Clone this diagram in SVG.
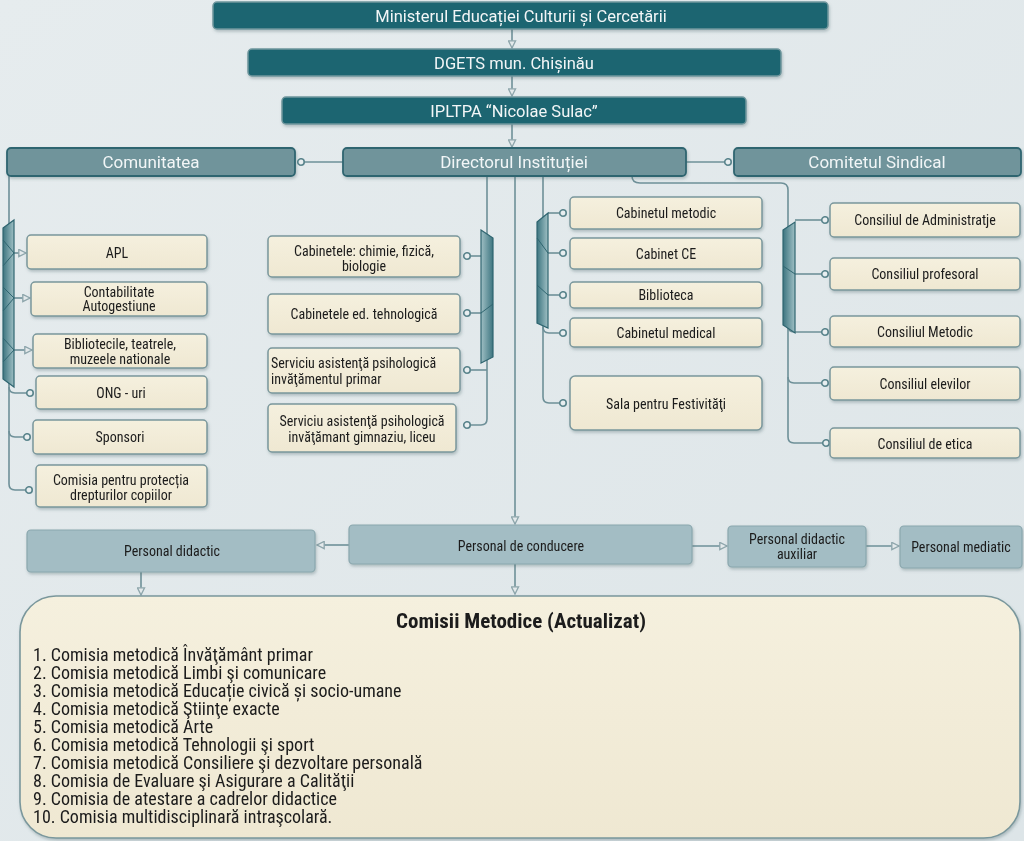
<svg xmlns="http://www.w3.org/2000/svg" width="1024" height="841" viewBox="0 0 1024 841">
<defs>
<linearGradient id="bg" x1="0" y1="0" x2="1" y2="1"><stop offset="0" stop-color="#e6ecee"/><stop offset="1" stop-color="#dde5e8"/></linearGradient>
<linearGradient id="brL" x1="0" y1="0" x2="1" y2="0"><stop offset="0" stop-color="#3d7580"/><stop offset="1" stop-color="#9fbfc4"/></linearGradient>
<linearGradient id="brR" x1="0" y1="0" x2="1" y2="0"><stop offset="0" stop-color="#9fbfc4"/><stop offset="1" stop-color="#3d7580"/></linearGradient>
<linearGradient id="cream" x1="0" y1="0" x2="0" y2="1"><stop offset="0" stop-color="#f5f0de"/><stop offset="1" stop-color="#efe8d2"/></linearGradient>
<filter id="sh" x="-5%" y="-20%" width="110%" height="150%"><feDropShadow dx="1" dy="2" stdDeviation="1.5" flood-color="#506a70" flood-opacity="0.35"/></filter>
<marker id="tri" viewBox="0 0 10 10" refX="9" refY="5" markerWidth="9" markerHeight="9" orient="auto" markerUnits="userSpaceOnUse"><path d="M1,1 L9,5 L1,9 Z" fill="#e3e9eb" stroke="#8ea6ac" stroke-width="1.5"/></marker>
<marker id="dot" viewBox="0 0 10 10" refX="5" refY="5" markerWidth="9" markerHeight="9" markerUnits="userSpaceOnUse"><circle cx="5" cy="5" r="3.6" fill="#e8eef0" stroke="#5b858d" stroke-width="1.8"/></marker>
</defs>
<style>
.top{fill:#1e6571;stroke:#6f969d;stroke-width:1.5}
.mid{fill:#6f949b;stroke:#2f6570;stroke-width:1.8}
.box{fill:url(#cream);stroke:#7a979c;stroke-width:1.5}
.low{fill:#a3bdc4;stroke:#8aa7ae;stroke-width:1.2}
.br{stroke:#2f6570;stroke-width:1.2}
.ln{fill:none;stroke:#6e9098;stroke-width:1.6}
.wt{font-family:Roboto,"Liberation Sans",sans-serif;fill:#f2f6f7;font-size:16.5px;text-anchor:middle;dominant-baseline:central}
.wm{font-size:17px}
.bt{font-family:"Liberation Sans Narrow","Roboto Condensed","Liberation Sans",sans-serif;fill:#1b1b1b;font-size:14px;text-anchor:middle;dominant-baseline:central}
.st{text-anchor:start}
.li{font-family:"Liberation Sans Narrow","Roboto Condensed","Liberation Sans",sans-serif;fill:#1b1b1b;font-size:18px}
</style>
<rect x="0" y="0" width="1024" height="841" fill="url(#bg)"/>

<g id="connectors">
<line class="ln" x1="512" y1="28" x2="512" y2="48" marker-end="url(#tri)" stroke="#8ea6ac"/>
<line class="ln" x1="512" y1="76" x2="512" y2="96" marker-end="url(#tri)" stroke="#8ea6ac"/>
<line class="ln" x1="512" y1="124" x2="512" y2="147" marker-end="url(#tri)" stroke="#8ea6ac"/>
<line class="ln" x1="343" y1="162" x2="301" y2="162" marker-end="url(#dot)"/>
<line class="ln" x1="686" y1="162" x2="728" y2="162" marker-end="url(#dot)"/>
<path class="ln" d="M9,176 V484 Q9,490 15,490 H29" marker-end="url(#dot)"/>
<path class="ln" d="M9,387 Q9,393 15,393 H30" marker-end="url(#dot)"/>
<path class="ln" d="M9,431 Q9,437 15,437 H27" marker-end="url(#dot)"/>
<line class="ln" x1="14" y1="253" x2="26" y2="253" marker-end="url(#tri)"/>
<line class="ln" x1="14" y1="298" x2="30" y2="298" marker-end="url(#tri)"/>
<line class="ln" x1="14" y1="350" x2="32" y2="350" marker-end="url(#tri)"/>
<path class="ln" d="M487,176 V419 Q487,425 481,425 H467" marker-end="url(#dot)"/>
<line class="ln" x1="482" y1="256" x2="467" y2="256" marker-end="url(#dot)"/>
<line class="ln" x1="482" y1="313" x2="467" y2="313" marker-end="url(#dot)"/>
<line class="ln" x1="487" y1="370" x2="467" y2="370" marker-end="url(#dot)"/>
<path class="ln" d="M543,176 V397 Q543,403 549,403 H563" marker-end="url(#dot)"/>
<line class="ln" x1="548" y1="213" x2="563" y2="213" marker-end="url(#dot)"/>
<line class="ln" x1="548" y1="253" x2="563" y2="253" marker-end="url(#dot)"/>
<line class="ln" x1="548" y1="295" x2="563" y2="295" marker-end="url(#dot)"/>
<path class="ln" d="M543,327 Q543,333 549,333 H563" marker-end="url(#dot)"/>
<path class="ln" d="M632,176 Q632,183 640,183 H781 Q788,183 788,190 V437 Q788,443 794,443 H826" marker-end="url(#dot)"/>
<line class="ln" x1="795" y1="220" x2="825" y2="220" marker-end="url(#dot)"/>
<line class="ln" x1="795" y1="274" x2="825" y2="274" marker-end="url(#dot)"/>
<path class="ln" d="M788,326 Q788,332 794,332 H825" marker-end="url(#dot)"/>
<path class="ln" d="M788,377 Q788,383 794,383 H825" marker-end="url(#dot)"/>
<line class="ln" x1="515" y1="176" x2="515" y2="524" marker-end="url(#tri)"/>
<line class="ln" x1="349" y1="545" x2="317" y2="545" marker-end="url(#tri)" stroke="#8ea6ac"/>
<line class="ln" x1="692" y1="546" x2="727" y2="546" marker-end="url(#tri)" stroke="#8ea6ac"/>
<line class="ln" x1="866" y1="546" x2="899" y2="546" marker-end="url(#tri)" stroke="#8ea6ac"/>
<line class="ln" x1="141" y1="572" x2="141" y2="595" marker-end="url(#tri)" stroke="#8ea6ac"/>
<line class="ln" x1="515" y1="564" x2="515" y2="594" marker-end="url(#tri)" stroke="#8ea6ac"/>
</g>

<g id="brackets">
<polygon class="br" points="3,228 14,220 14,387 3,379" fill="url(#brL)"/>
<polyline points="3,240 14,253 3,266" fill="none" stroke="#2f6570" stroke-width="1"/>
<polyline points="3,287 14,298 3,311" fill="none" stroke="#2f6570" stroke-width="1"/>
<polyline points="3,338 14,350 3,362" fill="none" stroke="#2f6570" stroke-width="1"/>
<polygon class="br" points="481,230 493,238 493,357 481,363" fill="url(#brR)"/>
<line x1="481" y1="313" x2="493" y2="304" stroke="#2f6570" stroke-width="1"/>
<polygon class="br" points="537,222 548,213 548,328 537,323" fill="url(#brL)"/>
<line x1="537" y1="238" x2="548" y2="253" stroke="#2f6570" stroke-width="1"/>
<line x1="537" y1="285" x2="548" y2="295" stroke="#2f6570" stroke-width="1"/>
<polygon class="br" points="783,230 795,222 795,333 783,325" fill="url(#brL)"/>
<line x1="783" y1="266" x2="795" y2="274" stroke="#2f6570" stroke-width="1"/>
</g>

<g id="n-ministerul" filter="url(#sh)"><rect class="top" x="213" y="2" width="615" height="27" rx="4"/><text class="wt" x="521" y="16">Ministerul Educației Culturii și Cercetării</text></g>
<g id="n-dgets" filter="url(#sh)"><rect class="top" x="248" y="49" width="533" height="27" rx="4"/><text class="wt" x="514" y="63">DGETS mun. Chișinău</text></g>
<g id="n-ipltpa" filter="url(#sh)"><rect class="top" x="282" y="97" width="464" height="27" rx="4"/><text class="wt" x="514" y="111">IPLTPA “Nicolae Sulac”</text></g>
<g id="n-comunitatea" filter="url(#sh)"><rect class="mid" x="7" y="148" width="288" height="28" rx="4"/><text class="wt wm" x="151" y="162">Comunitatea</text></g>
<g id="n-directorul" filter="url(#sh)"><rect class="mid" x="343" y="148" width="343" height="28" rx="4"/><text class="wt wm" x="514" y="162">Directorul Instituției</text></g>
<g id="n-comitetul" filter="url(#sh)"><rect class="mid" x="734" y="148" width="287" height="28" rx="4"/><text class="wt wm" x="877" y="162">Comitetul Sindical</text></g>

<g id="n-apl" filter="url(#sh)"><rect class="box" x="27" y="235" width="180" height="34" rx="4"/><text class="bt" x="117" y="253">APL</text></g>
<g id="n-contabilitate" filter="url(#sh)"><rect class="box" x="31" y="282" width="176" height="34" rx="4"/><text class="bt" x="119" y="292">Contabilitate</text><text class="bt" x="119" y="306">Autogestiune</text></g>
<g id="n-biblioteci" filter="url(#sh)"><rect class="box" x="33" y="334" width="174" height="34" rx="4"/><text class="bt" x="120" y="344">Bibliotecile, teatrele,</text><text class="bt" x="120" y="359">muzeele nationale</text></g>
<g id="n-ong" filter="url(#sh)"><rect class="box" x="36" y="376" width="171" height="33" rx="4"/><text class="bt" x="121" y="393">ONG - uri</text></g>
<g id="n-sponsori" filter="url(#sh)"><rect class="box" x="33" y="420" width="174" height="34" rx="4"/><text class="bt" x="120" y="437">Sponsori</text></g>
<g id="n-comisia-protectie" filter="url(#sh)"><rect class="box" x="36" y="465" width="171" height="42" rx="4"/><text class="bt" x="121" y="480">Comisia pentru protecția</text><text class="bt" x="121" y="495">drepturilor copiilor</text></g>

<g id="n-cab-chimie" filter="url(#sh)"><rect class="box" x="268" y="236" width="192" height="41" rx="4"/><text class="bt" x="364" y="251">Cabinetele: chimie, fizică,</text><text class="bt" x="364" y="266">biologie</text></g>
<g id="n-cab-tehno" filter="url(#sh)"><rect class="box" x="268" y="294" width="192" height="40" rx="4"/><text class="bt" x="364" y="314">Cabinetele ed. tehnologică</text></g>
<g id="n-serv-primar" filter="url(#sh)"><rect class="box" x="268" y="348" width="192" height="45" rx="4"/><text class="bt st" x="271" y="363">Serviciu asistenţă psihologică</text><text class="bt st" x="271" y="379">invăţămentul primar</text></g>
<g id="n-serv-gimnaziu" filter="url(#sh)"><rect class="box" x="268" y="404" width="188" height="48" rx="4"/><text class="bt" x="362" y="421">Serviciu asistenţă psihologică</text><text class="bt" x="362" y="437">invăţămant gimnaziu, liceu</text></g>

<g id="n-cab-metodic" filter="url(#sh)"><rect class="box" x="570" y="197" width="192" height="32" rx="4"/><text class="bt" x="666" y="213">Cabinetul metodic</text></g>
<g id="n-cab-ce" filter="url(#sh)"><rect class="box" x="570" y="238" width="192" height="31" rx="4"/><text class="bt" x="666" y="254">Cabinet CE</text></g>
<g id="n-biblioteca" filter="url(#sh)"><rect class="box" x="570" y="282" width="192" height="26" rx="4"/><text class="bt" x="666" y="295">Biblioteca</text></g>
<g id="n-cab-medical" filter="url(#sh)"><rect class="box" x="570" y="318" width="192" height="29" rx="4"/><text class="bt" x="666" y="333">Cabinetul medical</text></g>
<g id="n-sala" filter="url(#sh)"><rect class="box" x="570" y="376" width="192" height="54" rx="5"/><text class="bt" x="666" y="404">Sala pentru Festivităţi</text></g>

<g id="n-cons-admin" filter="url(#sh)"><rect class="box" x="830" y="203" width="190" height="34" rx="4"/><text class="bt" x="925" y="220">Consiliul de Administratje</text></g>
<g id="n-cons-prof" filter="url(#sh)"><rect class="box" x="830" y="258" width="190" height="32" rx="4"/><text class="bt" x="925" y="274">Consiliul profesoral</text></g>
<g id="n-cons-metodic" filter="url(#sh)"><rect class="box" x="830" y="316" width="190" height="31" rx="4"/><text class="bt" x="925" y="332">Consiliul Metodic</text></g>
<g id="n-cons-elevilor" filter="url(#sh)"><rect class="box" x="830" y="367" width="190" height="33" rx="4"/><text class="bt" x="925" y="384">Consiliul elevilor</text></g>
<g id="n-cons-etica" filter="url(#sh)"><rect class="box" x="830" y="428" width="190" height="30" rx="4"/><text class="bt" x="925" y="444">Consiliul de etica</text></g>

<g id="n-pers-didactic" filter="url(#sh)"><rect class="low" x="27" y="530" width="288" height="42" rx="4"/><text class="bt" x="172" y="551">Personal didactic</text></g>
<g id="n-pers-conducere" filter="url(#sh)"><rect class="low" x="349" y="525" width="343" height="39" rx="4"/><text class="bt" x="521" y="546">Personal de conducere</text></g>
<g id="n-pers-auxiliar" filter="url(#sh)"><rect class="low" x="728" y="526" width="138" height="41" rx="4"/><text class="bt" x="797" y="539">Personal didactic</text><text class="bt" x="797" y="554">auxiliar</text></g>
<g id="n-pers-mediatic" filter="url(#sh)"><rect class="low" x="900" y="526" width="122" height="42" rx="4"/><text class="bt" x="961" y="547">Personal mediatic</text></g>

<g id="n-comisii" filter="url(#sh)">
<rect x="20" y="596" width="1000" height="242" rx="36" fill="url(#cream)" stroke="#7a979c" stroke-width="1.6"/>
<text x="521" y="621" font-family="'Liberation Sans Narrow','Roboto Condensed','Liberation Sans',sans-serif" font-weight="bold" font-size="21" fill="#1b1b1b" text-anchor="middle" dominant-baseline="central">Comisii Metodice (Actualizat)</text>
<text class="li" x="33" y="661">1. Comisia metodică Învăţământ primar</text>
<text class="li" x="33" y="679">2. Comisia metodică Limbi şi comunicare</text>
<text class="li" x="33" y="697">3. Comisia metodică Educație civică și socio-umane</text>
<text class="li" x="33" y="715">4. Comisia metodică Ştiinţe exacte</text>
<text class="li" x="33" y="733">5. Comisia metodică Arte</text>
<text class="li" x="33" y="751">6. Comisia metodică Tehnologii şi sport</text>
<text class="li" x="33" y="769">7. Comisia metodică Consiliere şi dezvoltare personală</text>
<text class="li" x="33" y="787">8. Comisia de Evaluare şi Asigurare a Calităţii</text>
<text class="li" x="33" y="805">9. Comisia de atestare a cadrelor didactice</text>
<text class="li" x="33" y="823">10. Comisia multidisciplinară intraşcolară.</text>
</g>
</svg>
